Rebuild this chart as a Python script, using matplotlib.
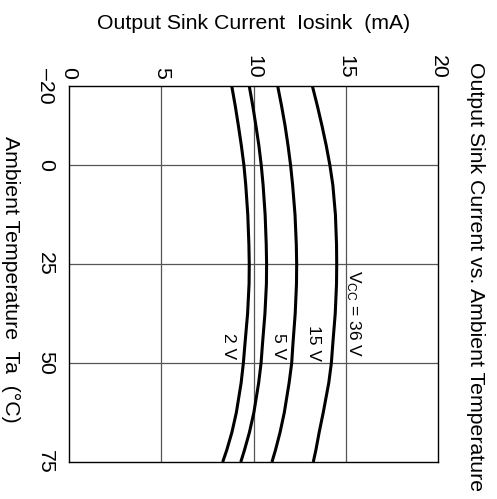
import numpy as np
import matplotlib
matplotlib.use("Agg")
import matplotlib.pyplot as plt

plt.rcParams['font.family'] = ['Liberation Sans', 'DejaVu Sans']
plt.rcParams['mathtext.fontset'] = 'custom'
plt.rcParams['mathtext.rm'] = 'Liberation Sans'
plt.rcParams['mathtext.it'] = 'Liberation Sans'

# ambient temperature (deg C) and sink current (mA) for each supply voltage
temp = [-20, -15, -10, -5, 0, 5, 12.5, 20, 25, 30, 37.5, 45, 50, 55, 62.5,
        67.5, 72, 75]
i_2v = [8.82, 9.01, 9.18, 9.34, 9.48, 9.58, 9.69, 9.75, 9.77, 9.76, 9.68,
        9.54, 9.45, 9.33, 9.07, 8.83, 8.55, 8.33]
i_5v = [9.77, 9.96, 10.13, 10.29, 10.42, 10.52, 10.63, 10.69, 10.71, 10.70,
        10.62, 10.49, 10.41, 10.28, 10.02, 9.78, 9.51, 9.31]
i_15v = [11.31, 11.52, 11.71, 11.87, 12.01, 12.12, 12.25, 12.32, 12.34,
         12.33, 12.26, 12.14, 12.07, 11.93, 11.67, 11.44, 11.19, 11.00]
i_36v = [13.19, 13.46, 13.71, 13.94, 14.14, 14.30, 14.44, 14.50, 14.51,
         14.50, 14.43, 14.30, 14.22, 14.08, 13.78, 13.56, 13.38, 13.24]

cur_ticks = [0, 5, 10, 15, 20]
temp_ticks = [-20, 0, 25, 50, 75]
temp_labels = ['\u201320', '0', '25', '50', '75']

W, H = 497, 499
fig = plt.figure(figsize=(W / 100, H / 100), dpi=100)
# axes box in pixels: x 69..438, y 86..462 (from top)
ax = fig.add_axes([69 / W, 1 - 462 / H, (438 - 69) / W, (462 - 86) / H])

# the sheet is drawn turned a quarter clockwise:
# current runs left->right, temperature runs top->bottom
for cur in [i_2v, i_5v, i_15v, i_36v]:
    ax.plot(cur, temp, color='black', lw=2.2, solid_capstyle='butt',
            solid_joinstyle='round', zorder=3)

ax.set_xlim(0, 20)
ax.set_ylim(75, -20)

for v in [5, 10, 15]:
    ax.axvline(v, color='#555555', lw=0.9, zorder=1)
for t in [0, 25, 50]:
    ax.axhline(t, color='#555555', lw=0.9, zorder=1)

for s in ax.spines.values():
    s.set_linewidth(1.0)
    s.set_color('black')

fs = 15.3
ax.xaxis.tick_top()
ax.set_xticks(cur_ticks)
ax.set_xticklabels([str(c) for c in cur_ticks], rotation=-90, fontsize=fs)
ax.set_yticks(temp_ticks)
ax.set_yticklabels(temp_labels, rotation=-90, fontsize=fs, va='center')
ax.tick_params(axis='x', length=0, pad=5)
ax.tick_params(axis='y', length=0, pad=10)

# curve labels
lfs = 12.5
ax.text(15.4, 26.5, r'V$_{\rm CC}$ = 36 V', rotation=-90, fontsize=lfs,
        ha='center', va='top')
ax.text(13.26, 40.4, '15 V', rotation=-90, fontsize=lfs, ha='center', va='top')
ax.text(11.38, 42.4, '5 V', rotation=-90, fontsize=lfs, ha='center', va='top')
ax.text(8.67, 42.4, '2 V', rotation=-90, fontsize=lfs, ha='center', va='top')

# axis captions and title
fig.text(253.5 / W, 1 - 29 / H, 'Output Sink Current  Iosink  (mA)',
         fontsize=fs, ha='center', va='baseline')
fig.text(5 / W, 1 - 279 / H, 'Ambient Temperature  Ta  (\u00b0C)',
         rotation=-90, rotation_mode='anchor', fontsize=fs,
         ha='center', va='baseline')
fig.text(470 / W, 1 - 277 / H, 'Output Sink Current vs. Ambient Temperature',
         rotation=-90, rotation_mode='anchor', fontsize=fs,
         ha='center', va='baseline')

fig.savefig('out.png', dpi=100)
